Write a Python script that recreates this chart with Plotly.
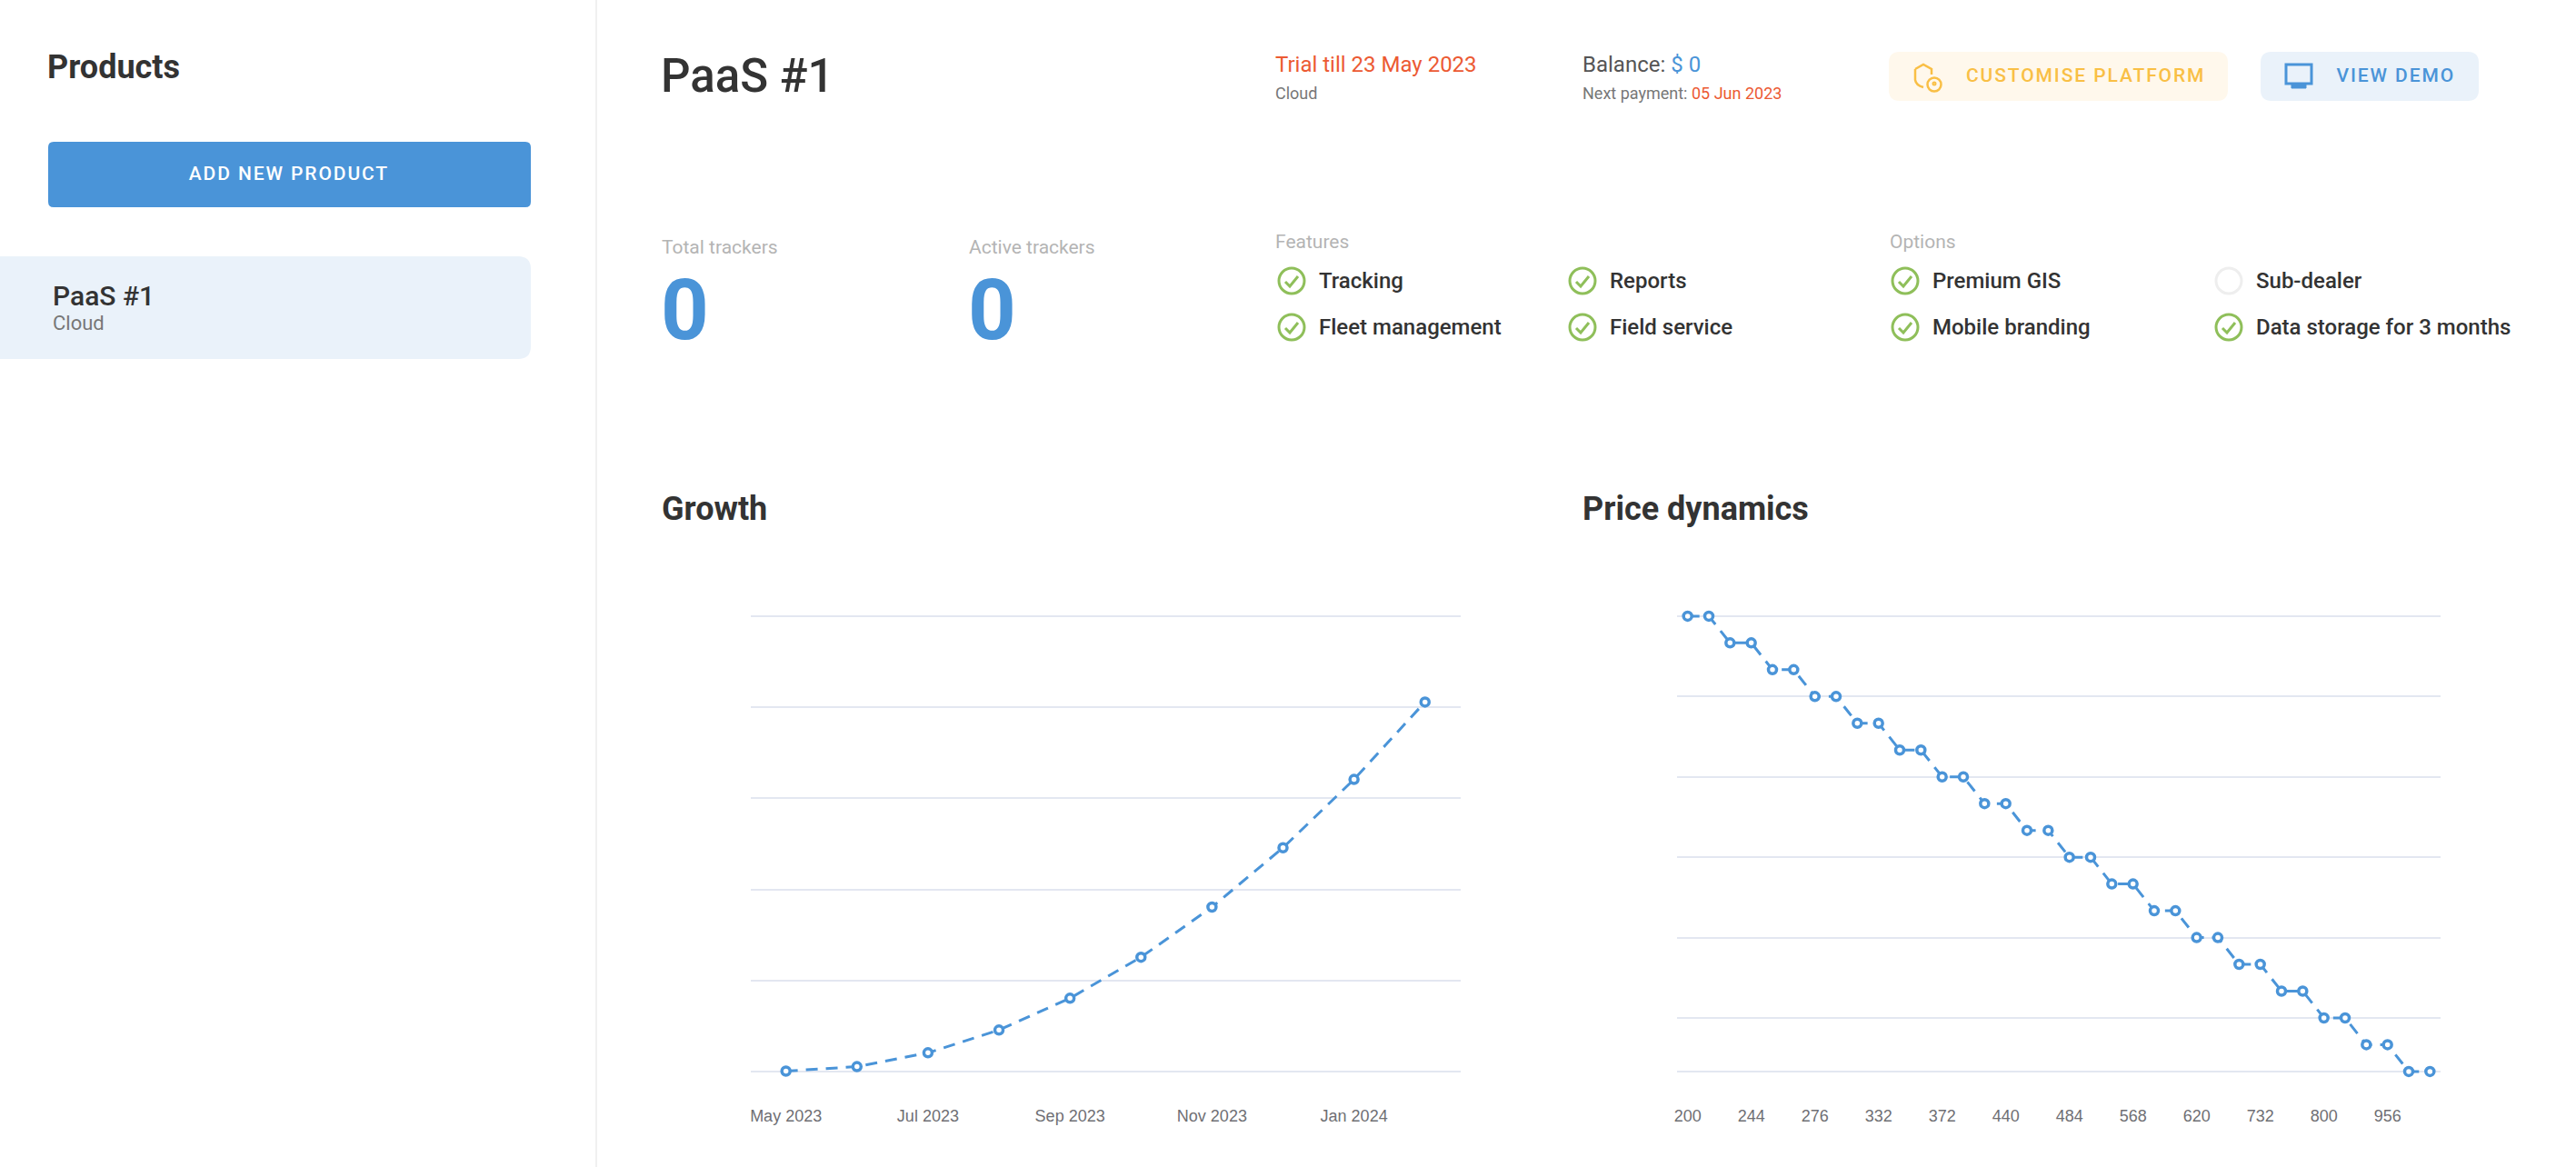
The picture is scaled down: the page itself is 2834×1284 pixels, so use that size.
import plotly.graph_objects as go

W, H = 2834, 1284

BLUE = "#4A94D8"
PALE_BLUE = "#EAF2FA"
DARK = "#333333"
MUTED = "#777777"
FAINT = "#B4B4B4"
RED = "#EC5A33"
YELLOW = "#F9BF45"
GREEN = "#8FBF5A"
GRID = "#E3E7F1"

growth_months = ["May 2023", "Jun 2023", "Jul 2023", "Aug 2023", "Sep 2023",
                 "Oct 2023", "Nov 2023", "Dec 2023", "Jan 2024", "Feb 2024"]
growth_values = [4, 53, 205, 455, 804, 1255, 1805, 2457, 3207, 4057]
growth_ticks = ["May 2023", "Jul 2023", "Sep 2023", "Nov 2023", "Jan 2024"]
growth_grid = [0, 1000, 2000, 3000, 4000, 5000]

price_values = [2.7, 2.7, 2.6, 2.6, 2.5, 2.5, 2.4, 2.4, 2.3, 2.3, 2.2, 2.2,
                2.1, 2.1, 2.0, 2.0, 1.9, 1.9, 1.8, 1.8, 1.7, 1.7, 1.6, 1.6,
                1.5, 1.5, 1.4, 1.4, 1.3, 1.3, 1.2, 1.2, 1.1, 1.1, 1.0, 1.0]
price_labels = ["200", "244", "276", "332", "372", "440", "484", "568", "620", "732", "800", "956"]
price_label_pos = [0, 3, 6, 9, 12, 15, 18, 21, 24, 27, 30, 33]
price_grid = [2.7, 2.4, 2.1, 1.8, 1.5, 1.2, 1.0]

features = [("Tracking", 1421, 309), ("Reports", 1741, 309),
            ("Fleet management", 1421, 360), ("Field service", 1741, 360)]
options = [("Premium GIS", 2096, 309, True), ("Sub-dealer", 2452, 309, False),
           ("Mobile branding", 2096, 360, True), ("Data storage for 3 months", 2452, 360, True)]
spaced_labels = ["ADD NEW PRODUCT", "CUSTOMISE PLATFORM", "VIEW DEMO"]


def pt(x, y):
    return f"{x / W:.6f},{1 - y / H:.6f}"


def rrect(x0, y0, x1, y1, r, left=True):
    # rounded box, the sidebar card has square corners on its left edge
    rl = r if left else 0
    return ("M" + pt(x0 + rl, y0) + " L" + pt(x1 - r, y0) + " Q" + pt(x1, y0) + " " + pt(x1, y0 + r)
            + " L" + pt(x1, y1 - r) + " Q" + pt(x1, y1) + " " + pt(x1 - r, y1)
            + " L" + pt(x0 + rl, y1) + " Q" + pt(x0, y1) + " " + pt(x0, y1 - rl)
            + " L" + pt(x0, y0 + rl) + " Q" + pt(x0, y0) + " " + pt(x0 + rl, y0) + " Z")


shapes = []
annotations = []


def box(x0, y0, x1, y1, r, color, left=True):
    shapes.append(dict(type="path", xref="paper", yref="paper", path=rrect(x0, y0, x1, y1, r, left),
                       fillcolor=color, line_width=0, layer="below"))


def ring(cx, cy, r, color, width=3):
    shapes.append(dict(type="circle", xref="paper", yref="paper",
                       x0=(cx - r) / W, x1=(cx + r) / W, y0=1 - (cy + r) / H, y1=1 - (cy - r) / H,
                       line=dict(color=color, width=width), fillcolor="rgba(0,0,0,0)"))


def stroke(path, color, width=3, fill="rgba(0,0,0,0)"):
    shapes.append(dict(type="path", xref="paper", yref="paper", path=path,
                       line=dict(color=color, width=width), fillcolor=fill))


def label(text, x, y, size, color, weight=400, anchor="left", family="Roboto"):
    annotations.append(dict(text=text, xref="paper", yref="paper", x=x / W, y=1 - y / H,
                            xanchor=anchor, yanchor="middle", showarrow=False,
                            borderpad=0, borderwidth=0,
                            font=dict(family=family, size=size, color=color, weight=weight)))


# sidebar
shapes.append(dict(type="line", xref="paper", yref="paper", x0=656 / W, x1=656 / W, y0=0, y1=1,
                   line=dict(color="#EBEBEB", width=1.5), layer="below"))
label("Products", 52, 74, 36, DARK, 700)
box(53, 156, 584, 228, 6, BLUE)
label("ADD NEW PRODUCT", 318, 191, 21, "#FFFFFF", 500, anchor="center")
box(0, 282, 584, 395, 14, PALE_BLUE, left=False)
label("PaaS #1", 58, 325, 30, DARK, 500)
label("Cloud", 58, 356, 22, MUTED)

# header
label("PaaS #1", 727, 83, 51, DARK, 500)
label("Trial till 23 May 2023", 1403, 70.5, 24, RED)
label("Cloud", 1403, 102.5, 18, MUTED)
label(f'Balance: <span style="color:{BLUE}">$ 0</span>', 1741, 70.5, 24, "#555555")
label(f'Next payment: <span style="color:{RED}">05 Jun 2023</span>', 1741, 102.5, 18, MUTED)

box(2078, 57, 2451, 111, 12, "#FFF8EC")
label("CUSTOMISE PLATFORM", 2180, 83, 21, YELLOW, 500)
stroke("M" + pt(2107, 76) + " L" + pt(2116, 71) + " L" + pt(2125, 76) + " L" + pt(2125, 82)
       + " M" + pt(2107, 76) + " L" + pt(2107, 88) + " Q" + pt(2108, 94) + " " + pt(2116, 96), YELLOW, 2.5)
ring(2128, 93, 7.5, YELLOW, 2.5)
ring(2128, 92, 1.5, YELLOW, 2)

box(2487, 57, 2727, 111, 12, PALE_BLUE)
label("VIEW DEMO", 2579, 83, 21, BLUE, 500)
stroke("M" + pt(2515, 71) + " L" + pt(2543, 71) + " L" + pt(2543, 92) + " L" + pt(2515, 92) + " Z", BLUE, 3)
stroke("M" + pt(2521, 92) + " L" + pt(2537, 92) + " L" + pt(2537, 97) + " L" + pt(2521, 97) + " Z", BLUE, 1, BLUE)

# counters
label("Total trackers", 728, 271.5, 21, FAINT)
label("Active trackers", 1066, 271.5, 21, FAINT)
label("0", 727, 341, 92, BLUE, 700)
label("0", 1065, 341, 92, BLUE, 700)

# features and options
label("Features", 1403, 265.5, 21, FAINT)
label("Options", 2079, 265.5, 21, FAINT)


def checkmark(cx, cy):
    ring(cx, cy, 14, GREEN)
    stroke("M" + pt(cx - 7, cy + 1) + " L" + pt(cx - 2, cy + 6) + " L" + pt(cx + 7, cy - 5), GREEN, 3)


for name, cx, cy in features:
    checkmark(cx, cy)
    label(name, cx + 30, cy, 24, DARK, 500)
for name, cx, cy, enabled in options:
    if enabled:
        checkmark(cx, cy)
    else:
        ring(cx, cy, 14, "#EEEEEE")
    label(name, cx + 30, cy, 24, DARK, 500)

# charts
label("Growth", 728, 560, 36, DARK, 700)
label("Price dynamics", 1741, 560, 36, DARK, 700)

fig = go.Figure()
line_style = dict(color=BLUE, width=3, dash="13px,9px")
marker_style = dict(size=9, color="#FFFFFF", line=dict(color=BLUE, width=3.5))
fig.add_trace(go.Scatter(x=growth_months, y=growth_values, mode="lines+markers", line=line_style,
                         marker=marker_style, cliponaxis=False, xaxis="x", yaxis="y"))
fig.add_trace(go.Scatter(x=list(range(len(price_values))), y=price_values, mode="lines+markers", line=line_style,
                         marker=marker_style, cliponaxis=False, xaxis="x2", yaxis="y2"))

tick_font = dict(family="Liberation Sans", size=18, color="#6F6F74")
# both y ranges run 10px past the outer gridlines, gridlines exactly on the range edge do not get drawn
fig.update_layout(
    width=W, height=H, margin=dict(l=0, r=0, t=0, b=0, autoexpand=False), autosize=False, showlegend=False,
    paper_bgcolor="white", plot_bgcolor="white",
    shapes=shapes, annotations=annotations,
    xaxis=dict(domain=[825.6 / W, 1606.8 / W], type="category", categoryorder="array", categoryarray=growth_months,
               range=[-0.5, 9.5], tickmode="array", tickvals=growth_ticks, ticktext=growth_ticks,
               showgrid=False, zeroline=False, tickfont=tick_font, anchor="y", ticklabelstandoff=26),
    yaxis=dict(domain=[1 - 1188.9 / H, 1 - 667.9 / H], range=[-99.8, 5099.8], tickmode="array", tickvals=growth_grid,
               showticklabels=False, gridcolor=GRID, gridwidth=2, zeroline=False, anchor="x"),
    xaxis2=dict(domain=[1845 / W, 2685 / W], range=[-0.5, 35.5], tickmode="array", tickvals=price_label_pos,
                ticktext=price_labels, showgrid=False, zeroline=False, tickfont=tick_font, anchor="y2",
                ticklabelstandoff=26),
    yaxis2=dict(domain=[1 - 1188.9 / H, 1 - 667.9 / H], range=[0.9661, 2.7339], tickmode="array", tickvals=price_grid,
                showticklabels=False, gridcolor=GRID, gridwidth=2, zeroline=False, anchor="x2"),
)

# plotly has no letter spacing for annotations, the buttons in the reference use it
page_css = """
document.body.style.margin = '0';
document.body.style.overflow = 'hidden';
document.querySelectorAll('.annotation-text').forEach(function (t) {
  if (%s.includes(t.textContent)) { t.style.letterSpacing = '1.9px'; }
});
""" % (spaced_labels,)

fig.write_html("out.html", config={"displayModeBar": False}, post_script=page_css)
